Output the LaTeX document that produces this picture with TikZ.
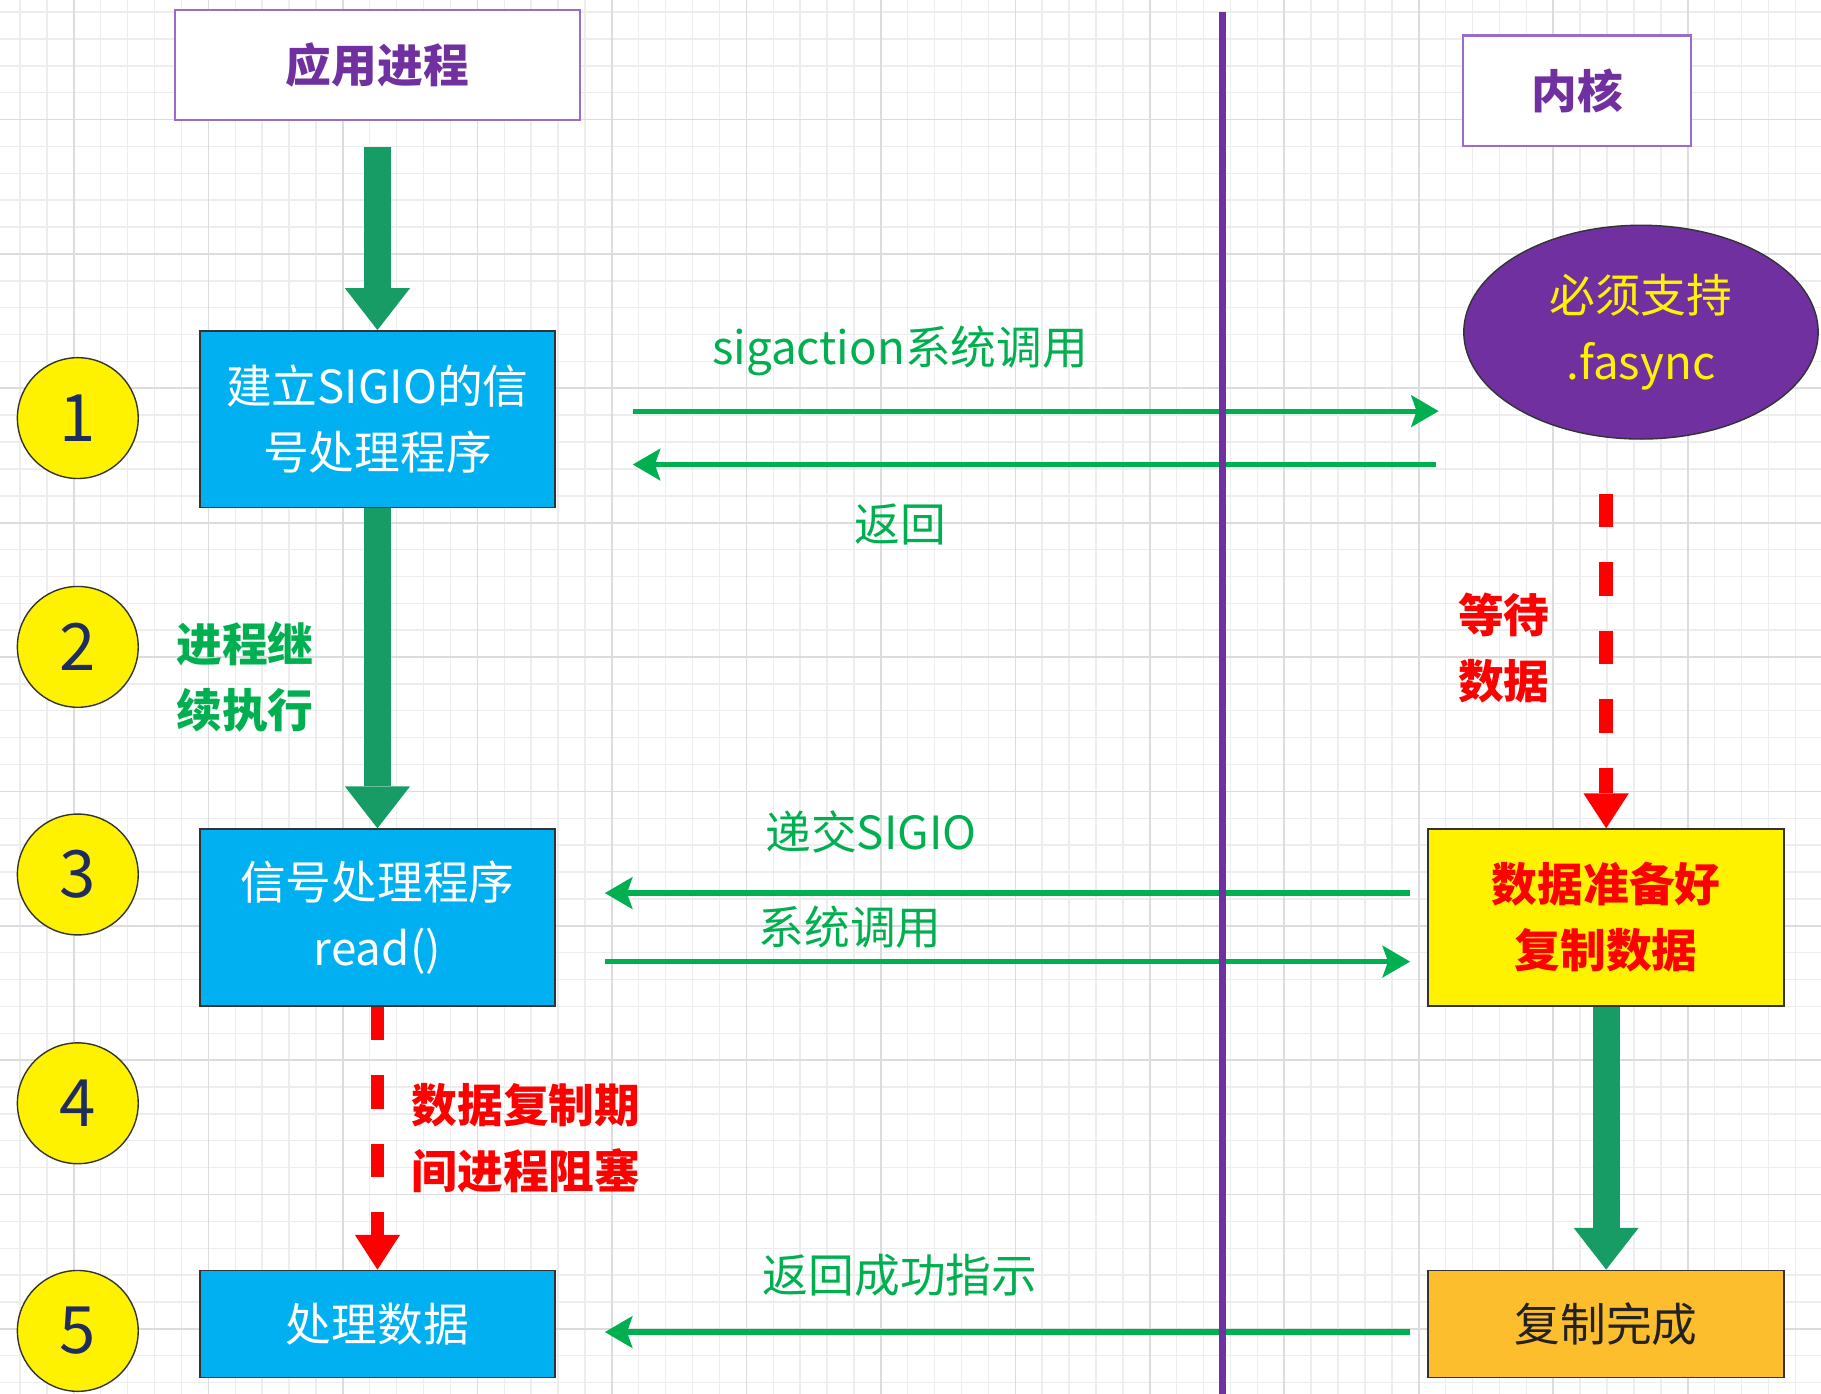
\documentclass[tikz,border=0pt]{standalone}
\usepackage{fontspec}
\setmainfont{Noto Sans CJK SC}
\usepackage{xcolor}
\usepackage{tikz}
\usetikzlibrary{arrows.meta, shapes.geometric}

\definecolor{viola}{HTML}{7030A0}
\definecolor{bordoviola}{HTML}{9B6BCB}
\definecolor{azzurro}{HTML}{00B0F0}
\definecolor{verde}{HTML}{00B050}
\definecolor{verdescuro}{HTML}{179C66}
\definecolor{arancio}{HTML}{FDBE2D}
\definecolor{blunotte}{HTML}{1F2D5C}
\definecolor{bordo}{HTML}{333333}
\definecolor{testoscuro}{HTML}{222222}
\definecolor{griglia}{HTML}{EDEDED}
\definecolor{grigliaforte}{HTML}{DCDCDC}

\newcommand{\testo}{\fontsize{11.2}{16.2}\selectfont}
\newcommand{\cifra}{\fontsize{16}{18}\selectfont}

\begin{document}
\begin{tikzpicture}[x=0.01cm, y=-0.01cm,
		riga/.style={draw=griglia, line width=0.012cm},
		rigaforte/.style={draw=grigliaforte, line width=0.015cm},
		titolo/.style={draw=bordoviola, line width=0.02cm, fill=white, text=viola, font=\testo\bfseries, minimum height=0.95cm},
		blocco/.style={draw=bordo, line width=0.015cm, fill=azzurro, text=white, font=\testo, align=center, minimum width=3.06cm},
		numero/.style={circle, draw=bordo, line width=0.012cm, fill=yellow, text=blunotte, font=\cifra, minimum size=1.04cm, inner sep=0pt},
		grossa/.style={draw=verdescuro, line width=0.23cm, -{Triangle[width=0.56cm,length=0.36cm,line width=0pt]}},
		rossa/.style={draw=red, line width=0.115cm, dash pattern=on 0.29cm off 0.3cm, -{Triangle[width=0.39cm,length=0.3cm,line width=0pt]}},
		freccia/.style={draw=verde, line width=0.045cm, -{Stealth[width=0.28cm,length=0.24cm,inset=0.05cm,line width=0pt]}},
		scritta/.style={text=verde, font=\testo},
		avviso/.style={text=red, font=\testo\bfseries, align=center}
	]
		\useasboundingbox (0,0) rectangle (1568,1200);
		\fill[white] (0,0) rectangle (1568,1200); % sfondo bianco
		
		% Quadretti dello sfondo
		\begin{scope}
			\clip (0,0) rectangle (1568,1200);
			\foreach \i in {0,...,67} \draw[riga] ({17.3+23.16*\i},0) -- ({17.3+23.16*\i},1200);
			\foreach \j in {0,...,51} \draw[riga] (0,{10.4+23.14*\j}) -- (1568,{10.4+23.14*\j});
			\foreach \i in {0,...,13} \draw[rigaforte] ({63.7+115.8*\i},0) -- ({63.7+115.8*\i},1200);
			\foreach \j in {0,...,10} \draw[rigaforte] (0,{103+115.7*\j}) -- (1568,{103+115.7*\j});
		\end{scope}
		
		% Intestazioni
		\node[titolo, minimum width=3.49cm] (app) at (325,56) {应用进程}; % processo utente
		\node[titolo, minimum width=1.96cm] (kernel) at (1358,78) {内核}; % kernel
		
		% Numeri dei passi
		\node[numero] (n1) at (67,360) {1};
		\node[numero] (n2) at (67,557) {2};
		\node[numero] (n3) at (67,753) {3};
		\node[numero] (n4) at (67,950) {4};
		\node[numero] (n5) at (67,1146) {5};
		
		% Blocchi del processo
		\node[blocco, minimum height=1.52cm] (segnale) at (325,361) {建立SIGIO的信\\号处理程序};
		\node[blocco, minimum height=1.52cm] (lettura) at (325,790) {信号处理程序\\read()};
		\node[blocco, minimum height=0.92cm] (elabora) at (325,1140) {处理数据};
		
		% Lato kernel
		\node[ellipse, draw=bordo, line width=0.012cm, fill=viola, text=yellow, font=\testo, align=center, minimum width=3.05cm, minimum height=1.84cm] (fasync) at (1413,286) {必须支持\\.fasync};
		\node[blocco, fill=yellow, text=red, font=\testo\bfseries, minimum height=1.52cm] (pronto) at (1383,790) {数据准备好\\复制数据};
		\node[blocco, fill=arancio, text=testoscuro, minimum height=0.92cm] (finito) at (1383,1140) {复制完成};
		\coordinate (attesa) at (1383,425); % inizio della linea rossa
		
		% Scritte sulle frecce
		\node[scritta] (sigaction) at (775,302) {sigaction系统调用};
		\node[scritta] (ritorno) at (775,452) {返回};
		\node[scritta] (consegna) at (750,716) {递交SIGIO};
		\node[scritta] (chiamata) at (732,798) {系统调用};
		\node[scritta] (successo) at (775,1098) {返回成功指示};
		\node[avviso, text=verde] (continua) at (211,583) {进程继\\续执行};
		\node[avviso] (aspetta) at (1295,558) {等待\\数据};
		\node[avviso] (copia) at (453,980) {数据复制期\\间进程阻塞};
		
		% Frecce verticali
		\draw[grossa] ([yshift=-0.22cm]app.south) -- (segnale.north);
		\draw[grossa] (segnale.south) -- (lettura.north);
		\draw[grossa] (pronto.south) -- (finito.north);
		\draw[rossa] (lettura.south) -- (elabora.north);
		\draw[rossa] (attesa) -- (pronto.north);
		
		% Frecce orizzontali
		\draw[freccia, shorten <=0.66cm, shorten >=0.21cm] (segnale.east |- 0,354) -- (fasync.west |- 0,354);
		\draw[freccia, shorten <=0.23cm, shorten >=0.66cm] (fasync.west |- 0,400) -- (segnale.east |- 0,400);
		\draw[freccia, shorten <=0.15cm, shorten >=0.42cm] (pronto.west |- 0,769) -- (lettura.east |- 0,769);
		\draw[freccia, shorten <=0.42cm, shorten >=0.15cm] (lettura.east |- 0,828) -- (pronto.west |- 0,828);
		\draw[freccia, shorten <=0.15cm, shorten >=0.42cm] (finito.west |- 0,1147) -- (elabora.east |- 0,1147);
		
		% Linea di separazione
		\draw[viola, line width=0.06cm] (1053,10) -- (1053,1200);
	\end{tikzpicture}
\end{document}
